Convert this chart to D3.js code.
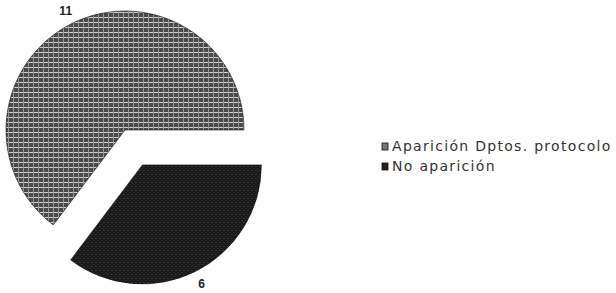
<!DOCTYPE html>
<html>
<head>
<meta charset="utf-8">
<script src="https://cdn.jsdelivr.net/npm/d3@7"></script>
<style>
  body { margin: 0; background: #fff; }
  svg { display: block; }
</style>
</head>
<body>
<script>
  const categories = ['Aparición Dptos. protocolo', 'No aparición']
  const values = [11, 6]
  const labels = ['11', '6']

  const size = { width: 616, height: 293 }
  const radius = 119
  const center = { x: 125, y: 130 }
  const explode = [0, 39]
  const colors = ['url(#hatch)', 'url(#dots)']

  const svg = d3.select('body')
    .append('svg')
    .attr('width', size.width)
    .attr('height', size.height)

  // scan-like textures for the two slices
  const defs = svg.append('defs')
  const hatch = defs.append('pattern')
    .attr('id', 'hatch')
    .attr('width', 5)
    .attr('height', 5)
    .attr('patternUnits', 'userSpaceOnUse')
  hatch.append('rect').attr('width', 5).attr('height', 5).attr('fill', '#4a4a4a')
  hatch.append('rect').attr('x', 0).attr('y', 2).attr('width', 5).attr('height', 1).attr('fill', '#d0d0d0')
  hatch.append('rect').attr('x', 3).attr('y', 0).attr('width', 1).attr('height', 5).attr('fill', '#9a9a9a')

  const dots = defs.append('pattern')
    .attr('id', 'dots')
    .attr('width', 4)
    .attr('height', 4)
    .attr('patternUnits', 'userSpaceOnUse')
  dots.append('rect').attr('width', 4).attr('height', 4).attr('fill', '#181818')
  dots.append('rect').attr('x', 1).attr('y', 1).attr('width', 1).attr('height', 1).attr('fill', '#5a5a5a')
  dots.append('rect').attr('x', 3).attr('y', 3).attr('width', 1).attr('height', 1).attr('fill', '#3c3c3c')

  // slices drawn clockwise from 3 o'clock: "No aparición" first, then the big one
  const data = categories.map((c, i) => ({ cat: c, value: values[i], label: labels[i], idx: i }))
  const pie = d3.pie()
    .value(d => d.value)
    .sort(null)
    .startAngle(Math.PI / 2)
    .endAngle(Math.PI / 2 + Math.PI * 2)

  const arcs = pie([data[1], data[0]])
  const arc = d3.arc().innerRadius(0).outerRadius(radius)
  const labelArc = d3.arc().innerRadius(133).outerRadius(133)

  const slices = svg.selectAll('g.slice')
    .data(arcs)
    .enter()
    .append('g')
    .attr('class', 'slice')
    .attr('transform', d => {
      const mid = (d.startAngle + d.endAngle) / 2
      const off = explode[d.data.idx]
      return 'translate(' + (center.x + Math.sin(mid) * off) + ',' + (center.y - Math.cos(mid) * off) + ')'
    })

  slices.append('path')
    .attr('d', arc)
    .attr('fill', d => colors[d.data.idx])
    .attr('stroke', '#111')
    .attr('stroke-width', 0.6)

  slices.append('text')
    .attr('transform', d => 'translate(' + labelArc.centroid(d) + ')')
    .attr('text-anchor', 'middle')
    .attr('dominant-baseline', 'central')
    .style('font-family', 'Liberation Sans, Arial, sans-serif')
    .style('font-size', '12px')
    .style('font-weight', 'bold')
    .attr('fill', '#222')
    .text(d => d.data.label)

  // legend
  const legend = svg.append('g')
    .attr('transform', 'translate(382, 143)')

  const items = legend.selectAll('g')
    .data(data)
    .enter()
    .append('g')
    .attr('transform', (d, i) => 'translate(0,' + i * 20 + ')')

  items.append('rect')
    .attr('width', 6)
    .attr('height', 7)
    .attr('fill', d => d.idx === 0 ? '#777' : '#222')
    .attr('stroke', '#111')
    .attr('stroke-width', 0.8)

  items.append('text')
    .attr('x', 10)
    .attr('y', 8)
    .style('font-family', 'DejaVu Sans, sans-serif')
    .style('font-size', '14px')
    .style('letter-spacing', '1.3px')
    .attr('fill', '#333')
    .text(d => d.cat)
</script>
</body>
</html>
